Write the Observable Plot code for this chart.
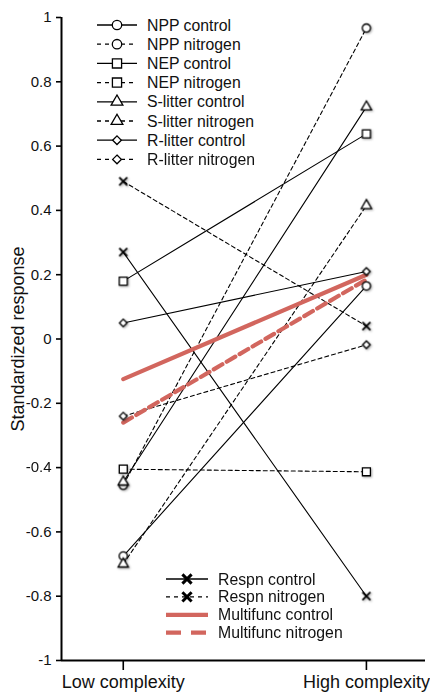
<!DOCTYPE html>
<html><head><meta charset="utf-8">
<script src="https://cdn.jsdelivr.net/npm/d3@7"></script>
<script src="https://cdn.jsdelivr.net/npm/@observablehq/plot@0.6"></script>
<style>
body{margin:0;background:#fff}
svg{font-family:"Liberation Sans",Arial,Helvetica,sans-serif}
</style>
</head><body><div id="chart"></div>
<script>
// ---- data ----
const series = ["NPP control","NPP nitrogen","NEP control","NEP nitrogen","S-litter control","S-litter nitrogen","R-litter control","R-litter nitrogen","Respn control","Respn nitrogen","Multifunc control","Multifunc nitrogen"];
const lowValues  = [-0.675,-0.455, 0.18,-0.405,-0.445,-0.70, 0.05,-0.24, 0.27, 0.49,-0.125,-0.26];
const highValues = [ 0.165, 0.967, 0.638,-0.413, 0.722, 0.415, 0.21,-0.018,-0.80, 0.04, 0.20, 0.185];
const symbols = ["circle","circle","square","square","triangle","triangle","diamond2","diamond2","times","times",null,null];
const treatments = ["control","nitrogen","control","nitrogen","control","nitrogen","control","nitrogen","control","nitrogen","control","nitrogen"];
const xTicks = [1, 2];
const xTickLabels = ["Low complexity","High complexity"];
const yTicks = [-1,-0.8,-0.6,-0.4,-0.2,0,0.2,0.4,0.6,0.8,1];
const yLabel = "Standardized response";
const topLegend = series.slice(0, 8);
const bottomLegend = series.slice(8);

// ---- styles ----
const red = "#d2665e";
const symR = {circle:4.1, square:4.5, triangle:3.8, diamond2:3.4, times:3.7};
const xDomain = [0.746, 2.243];
const yDomain = [-1, 1];

const table = series.map((s, i) => ({
  series: s, symbol: symbols[i], treatment: treatments[i], multi: symbols[i] === null,
  pts: [{x: xTicks[0], y: lowValues[i]}, {x: xTicks[1], y: highValues[i]}]
}));

const lineMarks = [];
const dotMarks = [];
for (const d of table.filter(d => !d.multi).concat(table.filter(d => d.multi))) {
  lineMarks.push(Plot.line(d.pts, {
    x: "x", y: "y",
    stroke: d.multi ? red : "#000",
    strokeWidth: d.multi ? 4.2 : 1.1,
    strokeDasharray: d.treatment === "nitrogen" ? (d.multi ? "10,5" : "4,3") : null
  }));
  if (d.symbol) {
    dotMarks.push(Plot.dot(d.pts, {
      x: "x", y: "y", symbol: () => d.symbol, r: symR[d.symbol],
      fill: "#fff", stroke: "#000",
      strokeWidth: d.symbol === "times" ? 1.8 : 1.3,
      imageFilter: "drop-shadow(1px 1px 1px rgba(0,0,0,0.35))"
    }));
  }
}

const fmt = d => String(Math.round(d * 10) / 10);

const plot = Plot.plot({
  width: 430, height: 692,
  marginTop: 17, marginBottom: 32, marginLeft: 61, marginRight: 5,
  x: {domain: xDomain},
  y: {domain: yDomain},
  symbol: {type: "identity"},
  marks: [
    ...lineMarks,
    ...dotMarks,
    Plot.ruleX([xDomain[0]], {stroke: "#000", strokeWidth: 2}),
    Plot.ruleY([yDomain[0]], {stroke: "#000", strokeWidth: 2}),
    Plot.axisY({ticks: yTicks, tickSize: 5, tickPadding: 5, tickFormat: fmt, fontSize: 15, strokeWidth: 1.6, label: null, fill: "#111"}),
    Plot.axisX({ticks: xTicks, tickSize: 10, tickPadding: 5, tickFormat: (d, i) => xTickLabels[xTicks.indexOf(d)], fontSize: 18, strokeWidth: 1.6, label: null, fill: "#111"}),
    Plot.text([yLabel], {frameAnchor: "left", rotate: -90, dx: -43, fontSize: 18, textAnchor: "middle", fill: "#111"})
  ]
});
document.getElementById("chart").appendChild(plot);

// ---- legends (inside plot area) ----
const svg = d3.select(plot);
function drawLegend(items, x0, y0, step, sampleW, textGap) {
  const g = svg.append("g").attr("font-size", 15.8).attr("fill", "#111").attr("text-anchor", "start");
  items.forEach((name, k) => {
    const d = table.find(t => t.series === name);
    const y = y0 + k * step;
    g.append("line")
      .attr("x1", x0).attr("x2", x0 + sampleW).attr("y1", y).attr("y2", y)
      .attr("stroke", d.multi ? red : "#000")
      .attr("stroke-width", d.multi ? 4.2 : 1.3)
      .attr("stroke-dasharray", d.treatment === "nitrogen" ? (d.multi ? "15,10" : "4,4") : null);
    if (d.symbol) {
      const symMap = {circle: d3.symbolCircle, square: d3.symbolSquare, triangle: d3.symbolTriangle, diamond2: d3.symbolDiamond2, times: d3.symbolTimes};
      const r = symR[d.symbol] * 1.15;
      g.append("path")
        .attr("transform", `translate(${x0 + sampleW / 2},${y})`)
        .attr("d", d3.symbol(symMap[d.symbol], Math.PI * r * r)())
        .attr("fill", "#fff").attr("stroke", "#000")
        .attr("stroke-width", d.symbol === "times" ? 3 : 1.3);
    }
    g.append("text").attr("x", x0 + sampleW + textGap).attr("y", y).attr("dy", "0.35em")
      .attr("text-anchor", "start").text(name);
  });
}
drawLegend(topLegend, 97, 25, 19.2, 40, 10);
drawLegend(bottomLegend, 166, 579, 17.9, 42, 10);
</script>
</body></html>
